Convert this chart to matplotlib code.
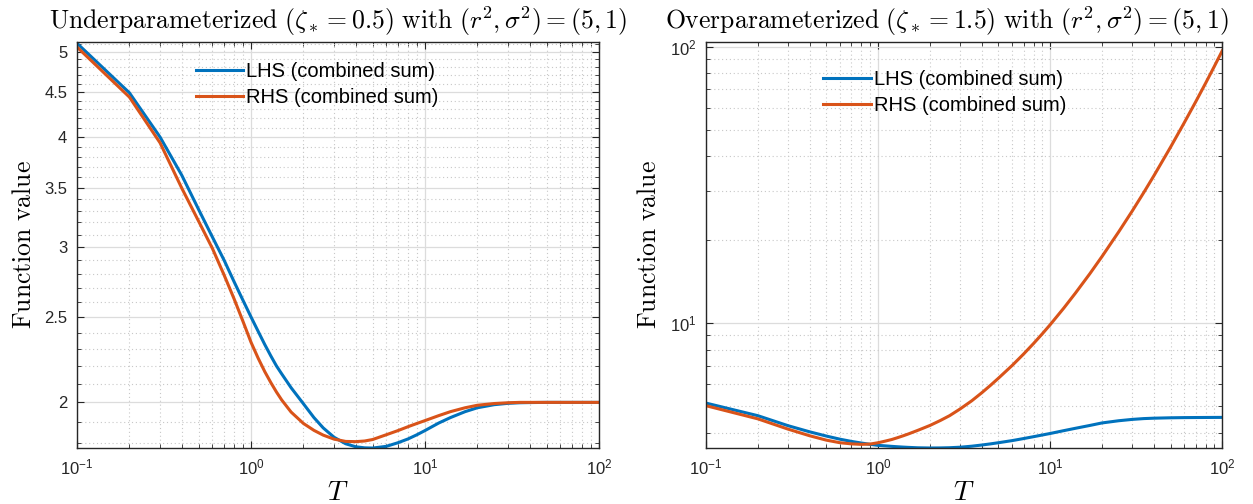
import numpy as np
import matplotlib
matplotlib.use("Agg")
import matplotlib.pyplot as plt
from matplotlib.ticker import FixedLocator, FuncFormatter, NullFormatter

plt.rcParams['font.family'] = ['Liberation Sans', 'DejaVu Sans']
# tick labels like 10^1 in the sans font, titles and labels switch to cm
plt.rcParams['mathtext.fontset'] = 'custom'
plt.rcParams['mathtext.rm'] = 'Liberation Sans'
plt.rcParams['mathtext.it'] = 'Liberation Sans:italic'
plt.rcParams['mathtext.bf'] = 'Liberation Sans:bold'

# sample points in T
T = [0.1, 0.2, 0.3, 0.4, 0.5, 0.6, 0.7, 0.8, 0.9, 1.0,
     1.1, 1.2, 1.3, 1.4, 1.5,
     1.7, 2.0, 2.3, 2.6, 3.0, 3.5, 4.0, 4.5,
     5, 6, 7, 8, 9, 10,
     12, 14, 17, 20, 25, 30, 35, 40,
     50, 60, 70, 80, 90, 100]

# underparameterized case
lhs_under = [5.11, 4.49, 4.00, 3.62, 3.31, 3.08, 2.90, 2.74, 2.61, 2.50,
             2.407, 2.326, 2.258, 2.200, 2.155,
             2.078, 1.993, 1.922, 1.871, 1.826, 1.795, 1.781, 1.776,
             1.775, 1.783, 1.80, 1.818, 1.838, 1.858,
             1.895, 1.922, 1.952, 1.972, 1.988, 1.995, 1.998, 1.999,
             2.0, 2.0, 2.0, 2.0, 2.0, 2.0]
rhs_under = [5.06, 4.44, 3.94, 3.50, 3.21, 2.99, 2.79, 2.62, 2.47, 2.34,
             2.244, 2.167, 2.106, 2.055, 2.013,
             1.950, 1.893, 1.859, 1.836, 1.817, 1.806, 1.805, 1.808,
             1.815, 1.838, 1.858, 1.877, 1.893, 1.907,
             1.932, 1.952, 1.972, 1.985, 1.994, 1.998, 2.0, 2.0,
             2.0, 2.0, 2.0, 2.0, 2.0, 2.0]

# overparameterized case
lhs_over = [5.12, 4.61, 4.24, 4.03, 3.89, 3.79, 3.72, 3.67, 3.63, 3.60,
            3.585, 3.57, 3.558, 3.548, 3.54,
            3.528, 3.522, 3.524, 3.53, 3.545, 3.575, 3.61, 3.645,
            3.68, 3.745, 3.81, 3.87, 3.925, 3.975,
            4.07, 4.15, 4.25, 4.34, 4.42, 4.47, 4.50, 4.515,
            4.53, 4.537, 4.54, 4.542, 4.544, 4.545]
rhs_over = [5.01, 4.49, 4.12, 3.90, 3.76, 3.68, 3.645, 3.63, 3.64, 3.68,
            3.73, 3.78, 3.84, 3.90, 3.96,
            4.08, 4.25, 4.43, 4.61, 4.88, 5.22, 5.58, 5.94,
            6.3, 7.0, 7.705, 8.414, 9.127, 9.847,
            11.31, 12.80, 15.06, 17.38, 21.34, 25.42, 29.65, 34.03,
            43.2, 52.9, 63.05, 73.7, 84.9, 96.6]

blue = '#0072BD'
orange = '#D95319'


def pow10(x, pos):
    e = int(round(np.log10(x)))
    return r'$10^{%d}$' % e


def style(ax):
    ax.set_xscale('log')
    ax.set_yscale('log')
    ax.set_xlim(0.1, 100)
    ax.xaxis.set_major_locator(FixedLocator([0.1, 1, 10, 100]))
    ax.xaxis.set_minor_locator(FixedLocator(
        [m * 10.0 ** k for k in range(-1, 2) for m in range(2, 10)]))
    ax.xaxis.set_major_formatter(FuncFormatter(pow10))
    ax.xaxis.set_minor_formatter(NullFormatter())
    ax.tick_params(which='both', direction='in', top=True, right=True,
                   colors='#262626', labelsize=12, pad=7)
    ax.tick_params(which='major', length=5)
    ax.tick_params(which='minor', length=3)
    for s in ax.spines.values():
        s.set_color('#262626')
        s.set_linewidth(1.0)
    ax.grid(True, which='major', color='#dcdcdc', linewidth=0.9, linestyle='-')
    ax.grid(True, which='minor', color='#c8c8c8', linewidth=0.8, linestyle=(0, (1, 2.5)))
    ax.set_axisbelow(True)
    ax.set_xlabel(r'$T$', fontsize=20, labelpad=2, math_fontfamily='cm')
    ax.set_ylabel(r'$\mathrm{Function\ value}$', fontsize=18.5, labelpad=6,
                  math_fontfamily='cm')


fig = plt.figure(figsize=(12.53, 5.04), dpi=100)
ax1 = fig.add_axes([0.0615, 0.111, 0.4165, 0.806])
ax2 = fig.add_axes([0.5635, 0.111, 0.4120, 0.806])

leg_kw = dict(loc='upper left', frameon=False, fontsize=14.5, handlelength=2.35,
              handletextpad=0.15, labelspacing=0.33, borderaxespad=0.3)

# left panel
ax1.plot(T, lhs_under, color=blue, lw=2.2, label='LHS (combined sum)')
ax1.plot(T, rhs_under, color=orange, lw=2.2, label='RHS (combined sum)')
style(ax1)
ax1.set_ylim(1.775, 5.13)
ax1.yaxis.set_major_locator(FixedLocator([2, 2.5, 3, 3.5, 4, 4.5, 5]))
ax1.yaxis.set_major_formatter(FuncFormatter(lambda v, p: ('%g' % v)))
ax1.yaxis.set_minor_locator(FixedLocator(
    [v / 10 for v in range(18, 52) if v % 5 != 0]))
ax1.yaxis.set_minor_formatter(NullFormatter())
ax1.set_title(r'$\mathrm{Underparameterized}\ (\zeta_* = 0.5)\ \mathrm{with}\ (r^2, \sigma^2) = (5, 1)$',
              fontsize=18.5, pad=9, math_fontfamily='cm')
ax1.legend(bbox_to_anchor=(0.2, 0.985), **leg_kw)

# right panel
ax2.plot(T, lhs_over, color=blue, lw=2.2, label='LHS (combined sum)')
ax2.plot(T, rhs_over, color=orange, lw=2.2, label='RHS (combined sum)')
style(ax2)
ax2.set_ylim(3.52, 104)
ax2.yaxis.set_major_locator(FixedLocator([10, 100]))
ax2.yaxis.set_major_formatter(FuncFormatter(pow10))
ax2.yaxis.set_minor_locator(FixedLocator(
    [m for m in range(4, 10)] + [m * 10 for m in range(2, 10)]))
ax2.yaxis.set_minor_formatter(NullFormatter())
ax2.set_title(r'$\mathrm{Overparameterized}\ (\zeta_* = 1.5)\ \mathrm{with}\ (r^2, \sigma^2) = (5, 1)$',
              fontsize=18.5, pad=9, x=0.466, math_fontfamily='cm')
ax2.legend(bbox_to_anchor=(0.2, 0.965), **leg_kw)

fig.savefig('out.png', dpi=100)
